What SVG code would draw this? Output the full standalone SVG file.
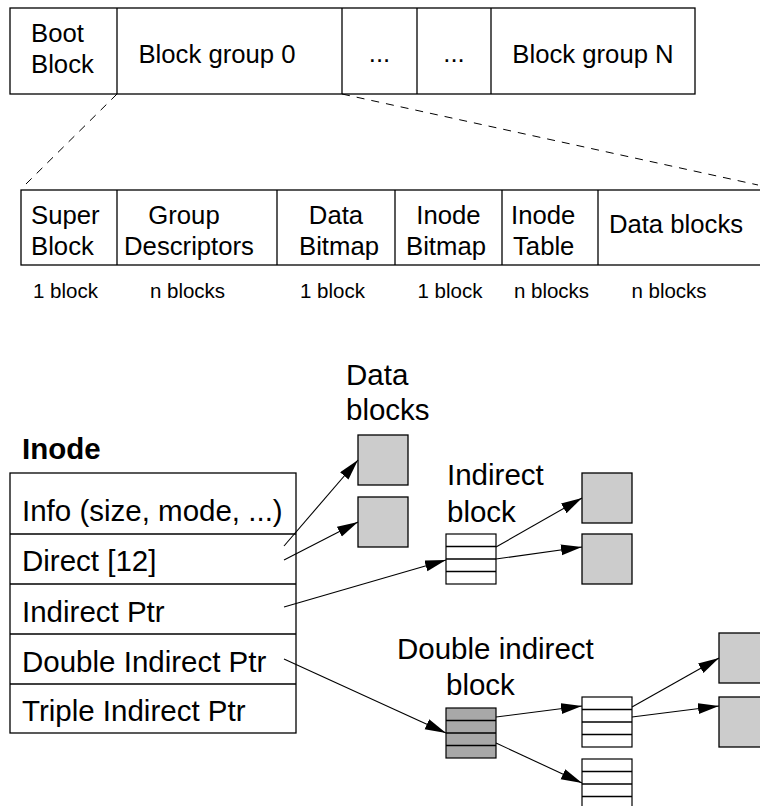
<svg xmlns="http://www.w3.org/2000/svg" width="760" height="806" viewBox="0 0 760 806">
<style>
text{font-family:"Liberation Sans",Arial,sans-serif;fill:#000}
.t25{font-size:25.7px}
.t20{font-size:20.5px}
.t29{font-size:29.5px}
.b{font-weight:bold}
.m{text-anchor:middle}
.box{fill:#fff;stroke:#000;stroke-width:1.3}
.div{stroke:#000;stroke-width:1.3;fill:none}
.dash{stroke:#000;stroke-width:1;fill:none;stroke-dasharray:8,7}
.data{fill:#cccccc;stroke:#000;stroke-width:1.3}
.ind{fill:#fff;stroke:#000;stroke-width:1.2}
.dind{fill:#a8a8a8;stroke:#000;stroke-width:1.2}
.arr{stroke:#000;stroke-width:1.1;fill:none;marker-end:url(#ah)}
</style>
<defs>
<marker id="ah" markerUnits="userSpaceOnUse" markerWidth="22" markerHeight="12" refX="21" refY="5.5" orient="auto">
<path d="M0,0 L21,5.5 L0,11 z" fill="#000"/>
</marker>
</defs>

<g id="disk">
<rect class="box" x="10" y="8" width="685" height="86"/>
<line class="div" x1="117" y1="8" x2="117" y2="94"/>
<line class="div" x1="342" y1="8" x2="342" y2="94"/>
<line class="div" x1="417" y1="8" x2="417" y2="94"/>
<line class="div" x1="491" y1="8" x2="491" y2="94"/>
<text class="t25" x="31" y="42">Boot</text>
<text class="t25" x="31" y="73">Block</text>
<text class="t25 m" x="217" y="63">Block group 0</text>
<text class="t25 m" x="379.5" y="62">...</text>
<text class="t25 m" x="454" y="62">...</text>
<text class="t25 m" x="593" y="63">Block group N</text>
</g>

<g id="group-layout">
<rect class="box" x="21" y="190" width="750" height="75"/>
<line class="div" x1="117" y1="190" x2="117" y2="265"/>
<line class="div" x1="277" y1="190" x2="277" y2="265"/>
<line class="div" x1="395" y1="190" x2="395" y2="265"/>
<line class="div" x1="502" y1="190" x2="502" y2="265"/>
<line class="div" x1="598" y1="190" x2="598" y2="265"/>
<text class="t25" x="31" y="224">Super</text>
<text class="t25" x="31" y="255">Block</text>
<text class="t25 m" x="184" y="224">Group</text>
<text class="t25 m" x="189" y="255">Descriptors</text>
<text class="t25 m" x="336" y="224">Data</text>
<text class="t25 m" x="339" y="255">Bitmap</text>
<text class="t25 m" x="448.5" y="224">Inode</text>
<text class="t25 m" x="446" y="255">Bitmap</text>
<text class="t25" x="511" y="224">Inode</text>
<text class="t25" x="513" y="255">Table</text>
<text class="t25 m" x="676" y="233">Data blocks</text>
<text class="t20 m" x="65.5" y="298">1 block</text>
<text class="t20 m" x="187.5" y="298">n blocks</text>
<text class="t20 m" x="332.5" y="298">1 block</text>
<text class="t20 m" x="450" y="298">1 block</text>
<text class="t20 m" x="551.5" y="298">n blocks</text>
<text class="t20 m" x="669" y="298">n blocks</text>
</g>

<g id="inode">
<text class="t29 b" x="22" y="459">Inode</text>
<rect class="box" x="10" y="473" width="286" height="260"/>
<line class="div" x1="10" y1="534" x2="296" y2="534"/>
<line class="div" x1="10" y1="584" x2="296" y2="584"/>
<line class="div" x1="10" y1="634" x2="296" y2="634"/>
<line class="div" x1="10" y1="684" x2="296" y2="684"/>
<text class="t29" x="22" y="521">Info (size, mode, ...)</text>
<text class="t29" x="22" y="571">Direct [12]</text>
<text class="t29" x="22" y="622">Indirect Ptr</text>
<text class="t29" x="22" y="672">Double Indirect Ptr</text>
<text class="t29" x="22" y="721">Triple Indirect Ptr</text>
</g>

<g id="direct-data">
<text class="t29" x="346" y="385">Data</text>
<text class="t29" x="346" y="420">blocks</text>
<rect class="data" x="358" y="435" width="50" height="50"/>
<rect class="data" x="358" y="497" width="50" height="50"/>
</g>

<g id="indirect-block">
<text class="t29" x="447" y="485">Indirect</text>
<text class="t29" x="447" y="522">block</text>
<rect class="ind" x="446" y="534" width="50" height="50"/>
<line class="div" x1="446" y1="546.5" x2="496" y2="546.5"/>
<line class="div" x1="446" y1="559" x2="496" y2="559"/>
<line class="div" x1="446" y1="571.5" x2="496" y2="571.5"/>
</g>

<g id="indirect-data">
<rect class="data" x="582" y="473" width="50" height="50"/>
<rect class="data" x="582" y="534" width="50" height="50"/>
</g>

<g id="double-indirect-block">
<text class="t29" x="397" y="659">Double indirect</text>
<text class="t29" x="446" y="695">block</text>
<rect class="dind" x="446" y="708" width="50" height="50"/>
<line class="div" x1="446" y1="720.5" x2="496" y2="720.5"/>
<line class="div" x1="446" y1="733" x2="496" y2="733"/>
<line class="div" x1="446" y1="745.5" x2="496" y2="745.5"/>
</g>

<g id="second-level-1">
<rect class="ind" x="582" y="697" width="50" height="50"/>
<line class="div" x1="582" y1="709.5" x2="632" y2="709.5"/>
<line class="div" x1="582" y1="722" x2="632" y2="722"/>
<line class="div" x1="582" y1="734.5" x2="632" y2="734.5"/>
</g>

<g id="second-level-2">
<rect class="ind" x="582" y="759" width="50" height="50"/>
<line class="div" x1="582" y1="771.5" x2="632" y2="771.5"/>
<line class="div" x1="582" y1="784" x2="632" y2="784"/>
<line class="div" x1="582" y1="796.5" x2="632" y2="796.5"/>
</g>

<g id="double-data">
<rect class="data" x="719" y="633" width="50" height="50"/>
<rect class="data" x="719" y="697" width="50" height="50"/>
</g>

<g id="connectors">
<line class="dash" x1="117" y1="94" x2="25" y2="185"/>
<line class="dash" x1="342" y1="94" x2="758" y2="185"/>
<line class="arr" x1="284" y1="546" x2="358" y2="460"/>
<line class="arr" x1="284" y1="560" x2="358" y2="522"/>
<line class="arr" x1="284" y1="607" x2="446" y2="560"/>
<line class="arr" x1="496" y1="547" x2="582" y2="498"/>
<line class="arr" x1="496" y1="559" x2="582" y2="547"/>
<line class="arr" x1="284" y1="659" x2="446" y2="733"/>
<line class="arr" x1="496" y1="717" x2="582" y2="706"/>
<line class="arr" x1="496" y1="743" x2="582" y2="783"/>
<line class="arr" x1="632" y1="707" x2="719" y2="658"/>
<line class="arr" x1="632" y1="717" x2="719" y2="706"/>
</g>
</svg>
